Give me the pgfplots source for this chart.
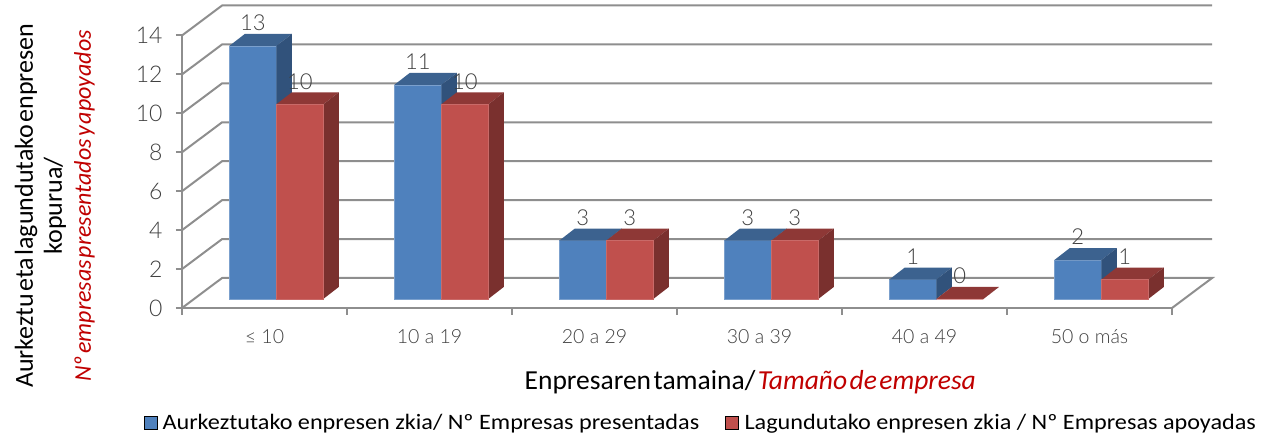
\documentclass[border=0pt]{standalone}
\usepackage{pgfplots}
\usepackage{pgfplotstable}
\usepackage{fontspec}
\pgfplotsset{compat=1.18}
\setmainfont{Carlito}
\newfontfamily\lato{Lato}[UprightFont=* Light]
\newfontfamily\titlef{Carlito}[WordSpace=0.4]
\newfontfamily\legf{Carlito}[FakeStretch=1.1]
\definecolor{bluef}{HTML}{4F81BD}
\definecolor{blues}{HTML}{31527B}
\definecolor{bluet}{HTML}{3C628F}
\definecolor{redf}{HTML}{C0504D}
\definecolor{reds}{HTML}{7A302E}
\definecolor{redt}{HTML}{8E3836}
\definecolor{gridg}{HTML}{8E8E8E}
\definecolor{darkred}{HTML}{C00000}
\definecolor{labg}{HTML}{404040}
\pgfplotstableread{
x b r
0 13 10
1 11 10
2 3 3
3 3 3
4 1 0
5 2 1
}\datatab
% side and top faces of a bar, drawn from the middle of its front-top edge
\pgfdeclareplotmark{boxb}{%
  \pgfmathsetlengthmacro{\hh}{\barval*19.46bp}%
  \pgfsetfillcolor{bluet}%
  \pgfpathmoveto{\pgfpoint{-23.5bp}{0bp}}\pgfpathlineto{\pgfpoint{23.5bp}{0bp}}\pgfpathlineto{\pgfpoint{39bp}{12bp}}\pgfpathlineto{\pgfpoint{-8bp}{12bp}}\pgfpathclose\pgfusepath{fill}%
  \pgfsetfillcolor{blues}%
  \pgfpathmoveto{\pgfpoint{23.5bp}{0bp}}\pgfpathlineto{\pgfpoint{39bp}{12bp}}\pgfpathlineto{\pgfpointadd{\pgfpoint{39bp}{12bp}}{\pgfpoint{0bp}{-\hh}}}\pgfpathlineto{\pgfpoint{23.5bp}{-\hh}}\pgfpathclose\pgfusepath{fill}%
}
\pgfdeclareplotmark{boxr}{%
  \pgfmathsetlengthmacro{\hh}{\barval*19.46bp}%
  \pgfsetfillcolor{redt}%
  \pgfpathmoveto{\pgfpoint{-23.5bp}{0bp}}\pgfpathlineto{\pgfpoint{23.5bp}{0bp}}\pgfpathlineto{\pgfpoint{39bp}{12bp}}\pgfpathlineto{\pgfpoint{-8bp}{12bp}}\pgfpathclose\pgfusepath{fill}%
  \pgfsetfillcolor{reds}%
  \pgfpathmoveto{\pgfpoint{23.5bp}{0bp}}\pgfpathlineto{\pgfpoint{39bp}{12bp}}\pgfpathlineto{\pgfpointadd{\pgfpoint{39bp}{12bp}}{\pgfpoint{0bp}{-\hh}}}\pgfpathlineto{\pgfpoint{23.5bp}{-\hh}}\pgfpathclose\pgfusepath{fill}%
}
\pgfplotsset{
  faces/.style={forget plot, scatter, only marks, mark size=1pt,
    scatter/@pre marker code/.code={}, scatter/@post marker code/.code={},
    visualization depends on={rawy \as \barval},
    nodes near coords,
    every node near coord/.append style={anchor=center, yshift=23bp, font=\lato\fontsize{22bp}{24bp}\selectfont, text=labg, inner sep=0pt}},
  wall/.style={forget plot, draw=gridg, line width=2bp, mark=none},
}
\begin{document}
\begin{tikzpicture}[x=1bp,y=1bp]
\path[use as bounding box] (0,0) rectangle (1272,437);
\begin{axis}[
  at={(182bp,129bp)}, anchor=south west,
  scale only axis, width=990bp, height=272.5bp,
  clip=false, clip marker paths=true,
  xmin=-0.5, xmax=5.5, ymin=0, ymax=14,
  axis x line*=bottom, axis y line*=left,
  axis line style={draw=gridg, line width=2.5bp, -},
  xtick={0,...,5},
  xticklabels={≤ 10,10 a 19,20 a 29,30 a 39,40 a 49,50 o más},
  minor xtick={-0.5,0.5,...,5.5},
  ytick={0,2,...,14},
  tick align=outside,
  major tick length=6bp,
  x tick style={draw=none},
  y tick style={draw=gridg, line width=2bp},
  minor tick length=7bp,
  minor x tick style={draw=gridg, line width=2bp},
  tick label style={font=\lato\fontsize{23bp}{24bp}\selectfont, text=labg},
  xticklabel style={font=\lato\fontsize{19.5bp}{22bp}\selectfont, yshift=-12bp},
  yticklabel style={xshift=-10bp},
  /pgf/number format/assume math mode=true,
  xlabel={Enpresaren tamaina/ {\color{darkred}\itshape Tamaño de empresa}},
  xlabel style={font=\titlef\fontsize{27.5bp}{29bp}\selectfont, at={(axis description cs:0.574,-0.272)}, anchor=center},
  ylabel={Aurkeztu eta lagundutako enpresen\\kopurua/\\{\color{darkred}\fontsize{24bp}{29bp}\selectfont\itshape Nº empresas presentados y apoyados}},
  ylabel style={font=\titlef\fontsize{26bp}{29bp}\selectfont, align=center, at={(axis description cs:-0.1286,0.375)}, anchor=center},
  legend columns=2,
  legend cell align=left,
  legend style={draw=none, fill=none, inner sep=0pt, at={(axis description cs:-0.0384,-0.422)}, anchor=west,
    font=\legf\fontsize{22bp}{24bp}\selectfont, /tikz/every even column/.append style={column sep=24bp}},
]
\addplot[wall] coordinates {(-0.5,0) (-0.257,1.541) (5.743,1.541) (5.5,0)};
\addplot[wall] coordinates {(-0.5,2) (-0.257,3.541) (5.743,3.541)};
\addplot[wall] coordinates {(-0.5,4) (-0.257,5.541) (5.743,5.541)};
\addplot[wall] coordinates {(-0.5,6) (-0.257,7.541) (5.743,7.541)};
\addplot[wall] coordinates {(-0.5,8) (-0.257,9.541) (5.743,9.541)};
\addplot[wall] coordinates {(-0.5,10) (-0.257,11.541) (5.743,11.541)};
\addplot[wall] coordinates {(-0.5,12) (-0.257,13.541) (5.743,13.541)};
\addplot[wall] coordinates {(-0.5,14) (-0.257,15.541) (5.743,15.541)};

\addplot[forget plot, ybar, bar width=47bp, bar shift=-23.5bp, fill=bluef, draw=bluef!75!white, line width=0.7bp, xshift=11.8bp, yshift=9bp] table[x=x,y=b]{\datatab};
\addplot[faces, mark=boxb, xshift=-11.7bp, yshift=9bp] table[x=x,y=b]{\datatab};
\addplot[faces, mark=boxr, xshift=35.3bp, yshift=9bp] table[x=x,y=r]{\datatab};
\addplot[forget plot, ybar, bar width=47bp, bar shift=23.5bp, fill=redf, draw=redf!85!white, line width=0.7bp, xshift=11.8bp, yshift=9bp] table[x=x,y=r]{\datatab};

\addlegendimage{legend image code/.code={\path[fill=bluef] (0bp,-6.5bp) rectangle (13bp,6.5bp); \path (16bp,0bp);}}
\addlegendentry{Aurkeztutako enpresen zkia/ Nº Empresas presentadas}
\addlegendimage{legend image code/.code={\path[fill=redf] (0bp,-6.5bp) rectangle (13bp,6.5bp); \path (17bp,0bp);}}
\addlegendentry{Lagundutako enpresen zkia / Nº Empresas apoyadas}
\end{axis}
\end{tikzpicture}
\end{document}
